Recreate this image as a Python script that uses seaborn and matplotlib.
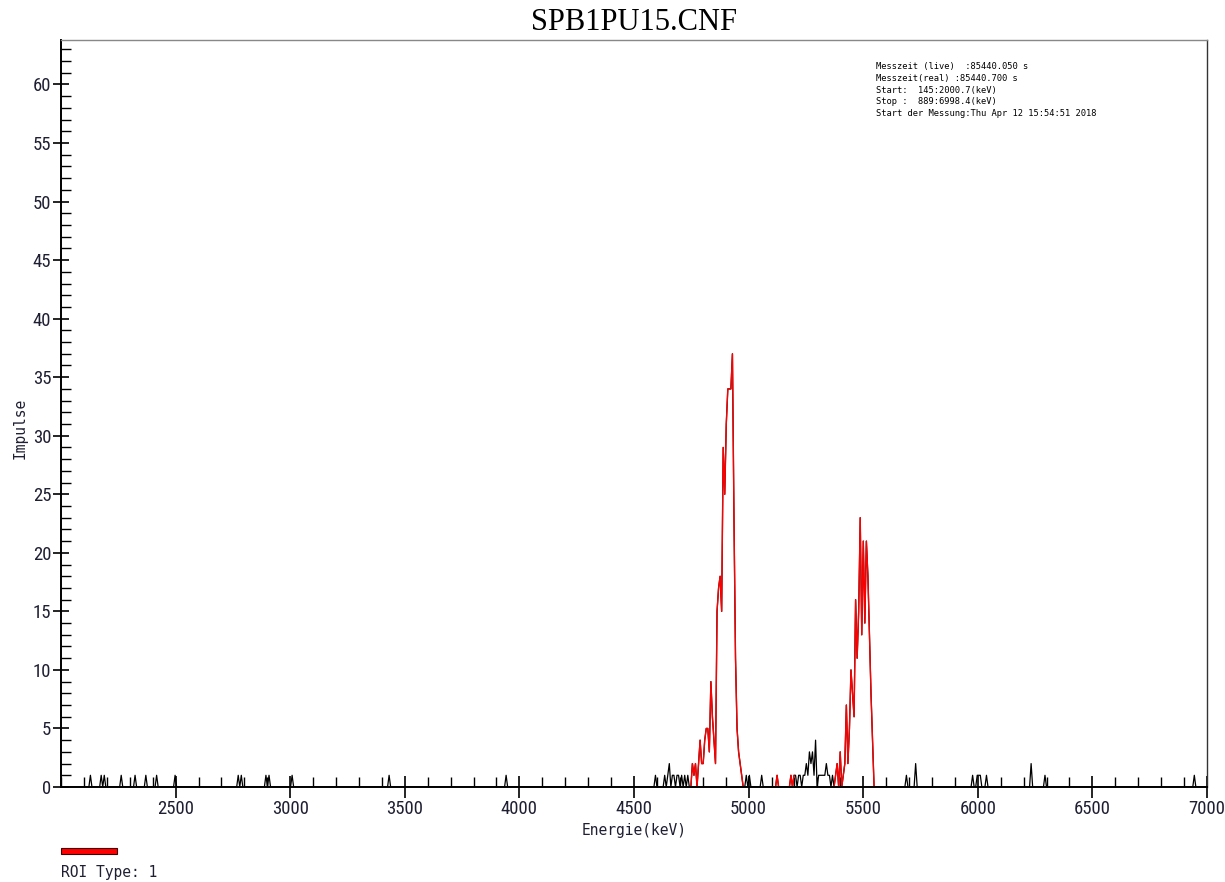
import numpy as np
import pandas as pd
import matplotlib
matplotlib.use("Agg")
import matplotlib.pyplot as plt
from matplotlib.patches import Rectangle
from matplotlib.ticker import MultipleLocator
import seaborn as sns

# ---------------- data ----------------
TITLE = "SPB1PU15.CNF"
X_LABEL = "Energie(keV)"
Y_LABEL = "Impulse"
LEGEND_LABEL = "ROI Type: 1"
INFO_LINES = [
    "Messzeit (live)  :85440.050 s",
    "Messzeit(real) :85440.700 s",
    "Start:  145:2000.7(keV)",
    "Stop :  889:6998.4(keV)",
    "Start der Messung:Thu Apr 12 15:54:51 2018",
]

# energy calibration (from the info box)
CH_START, E_START = 145, 2000.7
CH_STOP, E_STOP = 889, 6998.4

# isolated background counts (channel -> counts)
bg_channels = [164, 171, 173, 184, 193, 200, 207, 219, 260, 262, 278, 280, 295,
               358, 434, 531, 590, 592, 600, 694, 700, 737, 740, 741, 742, 746,
               775, 784, 881]
bg_counts = [1, 1, 1, 1, 1, 1, 1, 1, 1, 1, 1, 1, 1,
             1, 1, 1, 1, 1, 1, 1, 2, 1, 1, 1, 1, 1,
             2, 1, 1]

# contiguous background clusters
cluster_a_start = 537
cluster_a = [1, 0, 1, 2, 0, 1, 1, 0, 1, 1, 0, 1, 0, 1, 0, 1, 0]
cluster_b_start = 622
cluster_b = [1, 0, 1, 1, 0, 1, 1, 2, 1, 3, 2, 3, 1, 4, 0, 1, 1, 1, 1, 1, 2, 1, 1, 0, 1]

# regions of interest
roi1_start = 554
roi1 = [0, 2, 1, 2, 0, 2, 4, 2, 2, 4, 5, 5, 3, 9, 6, 4, 2, 15, 17, 18,
        15, 29, 25, 31, 34, 34, 34, 37, 23, 11, 5, 3, 2, 1, 0]
roi2_start = 609
roi2 = [0, 1, 0, 0, 0, 0, 0, 0, 0, 0, 1, 0, 1]
roi3_start = 647
roi3 = [0, 1, 2, 0, 3, 0, 1, 2, 7, 2, 5, 10, 8, 6, 16, 11, 15, 23, 13, 21,
        14, 21, 18, 13, 8, 4, 0]

# ---------------- build spectrum ----------------
channels = np.arange(CH_START, CH_STOP + 1)
gain = (E_STOP - E_START) / (CH_STOP - CH_START)
energy = E_START + (channels - CH_START) * gain
counts = np.zeros(len(channels))
for c, v in zip(bg_channels, bg_counts):
    counts[c - CH_START] = v
for start, vals in [(cluster_a_start, cluster_a), (cluster_b_start, cluster_b),
                    (roi1_start, roi1), (roi2_start, roi2), (roi3_start, roi3)]:
    counts[start - CH_START:start - CH_START + len(vals)] = vals

df = pd.DataFrame({"energy": energy, "counts": counts, "channel": channels})

# ---------------- plot ----------------
sns.set_style("ticks")
plt.rcParams["font.family"] = ["Liberation Sans Narrow", "Roboto Condensed",
                               "Liberation Sans", "DejaVu Sans"]

W, H = 1225, 882
fig = plt.figure(figsize=(W / 100, H / 100), dpi=100)
ax = fig.add_axes([61 / W, 1 - 787 / H, (1207 - 61) / W, (787 - 40) / H])

sns.lineplot(data=df, x="energy", y="counts", ax=ax, color="black",
             linewidth=0.9, estimator=None, sort=False)
for start, vals in [(roi1_start, roi1), (roi2_start, roi2), (roi3_start, roi3)]:
    seg = df[(df.channel >= start) & (df.channel < start + len(vals))]
    sns.lineplot(data=seg, x="energy", y="counts", ax=ax, color="#ff0000",
                 linewidth=1.0, estimator=None, sort=False)

ax.set_xlim(2000, 7000)
ax.set_ylim(0, 63.8)
ax.xaxis.set_major_locator(MultipleLocator(500))
ax.xaxis.set_minor_locator(MultipleLocator(100))
ax.yaxis.set_major_locator(MultipleLocator(5))
ax.yaxis.set_minor_locator(MultipleLocator(1))

lab_color = "#1f1f33"
ax.tick_params(axis="x", which="major", direction="inout", length=16, width=1.2,
               pad=1, labelsize=13.5, colors="black", labelcolor=lab_color)
ax.tick_params(axis="y", which="major", direction="inout", length=12, width=1.2,
               pad=1, labelsize=13.5, colors="black", labelcolor=lab_color)
ax.tick_params(axis="both", which="minor", direction="in", length=7, width=1.0,
               colors="black")
ax.tick_params(top=False, right=False, which="both")

xt = ax.get_xticks()
ax.set_xticks([t for t in xt if 2000 < t <= 7000])
ax.set_xticklabels([f"{int(t)}" for t in ax.get_xticks()])

for s in ["left", "bottom"]:
    ax.spines[s].set_linewidth(1.4)
    ax.spines[s].set_color("black")
ax.spines["right"].set_linewidth(1.0)
ax.spines["right"].set_color("#333333")
ax.spines["top"].set_linewidth(1.0)
ax.spines["top"].set_color("#888888")

mono = ["DejaVu Sans Mono"]
ax.set_xlabel(X_LABEL, family=mono, fontsize=10.5, color=lab_color, labelpad=2)
ax.set_ylabel(Y_LABEL, family=mono, fontsize=10.5, color=lab_color)
ax.yaxis.set_label_coords(-33 / (1207 - 61), 0.48)
ax.xaxis.set_label_coords(0.5, -(831 - 787) / (787 - 40))
ax.xaxis.label.set_va("center")

fig.text(634 / W, 1 - 22 / H, TITLE, ha="center", va="center",
         family=["Liberation Serif", "DejaVu Serif"], fontsize=22, color="black")

for i, line in enumerate(INFO_LINES):
    fig.text(876 / W, 1 - (67 + i * 11.5) / H, line, ha="left", va="center",
             family=mono, fontsize=6.3, color="black")

fig.patches.append(Rectangle((61 / W, 1 - 854 / H), 56 / W, 6 / H,
                             transform=fig.transFigure, facecolor="#ff0000",
                             edgecolor="#400000", linewidth=0.8))
fig.text(61 / W, 1 - 872 / H, LEGEND_LABEL, ha="left", va="center",
         family=mono, fontsize=10.5, color=lab_color)

fig.savefig("out.png", dpi=100)
